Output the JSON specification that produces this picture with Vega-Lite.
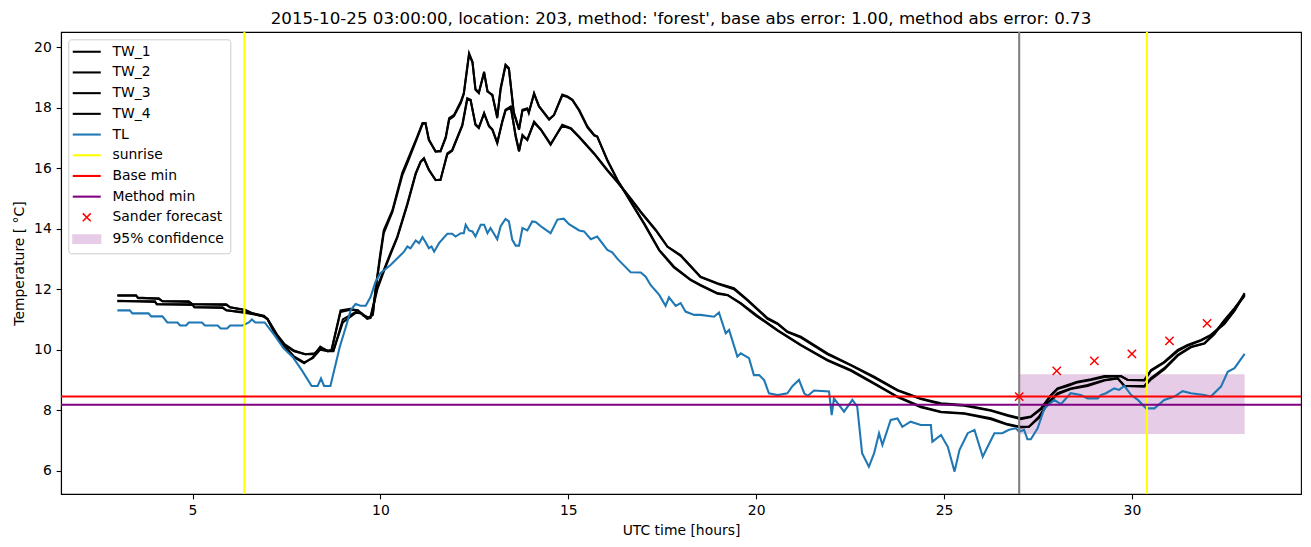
{
  "$schema": "https://vega.github.io/schema/vega-lite/v6.json",
  "width": 1240,
  "height": 462,
  "autosize": "none",
  "padding": {"left": 61, "top": 32, "right": 10, "bottom": 53},
  "title": {"text": "2015-10-25 03:00:00, location: 203, method: 'forest', base abs error: 1.00, method abs error: 0.73", "fontSize": 16.67, "fontWeight": "normal", "font": "DejaVu Sans", "color": "black", "anchor": "middle", "baseline": "bottom", "offset": 5, "dy": 19},
  "config": {
    "font": "DejaVu Sans",
    "view": {"stroke": "black", "strokeWidth": 1.1},
    "axis": {"grid": false, "domainColor": "black", "domainWidth": 1.1, "tickColor": "black", "tickWidth": 1.1, "tickSize": 4.86, "labelPadding": 4.86, "labelFont": "DejaVu Sans", "labelFontSize": 13.9, "labelColor": "black", "titleFont": "DejaVu Sans", "titleFontSize": 13.9, "titleFontWeight": "normal", "titleColor": "black"}
  },
  "datasets": {
    "pairA": [
      {"h":3.0,"TW_1":11.8,"TW_2":11.78},{"h":3.5,"TW_1":11.8,"TW_2":11.78},{"h":3.55,"TW_1":11.7,"TW_2":11.72},{"h":4.1,"TW_1":11.7,"TW_2":11.68},{"h":4.2,"TW_1":11.6,"TW_2":11.6},{"h":4.9,"TW_1":11.6,"TW_2":11.58},{"h":5.0,"TW_1":11.5,"TW_2":11.5},{"h":5.9,"TW_1":11.5,"TW_2":11.48},{"h":6.0,"TW_1":11.4,"TW_2":11.4},{"h":6.4,"TW_1":11.3,"TW_2":11.32},{"h":6.6,"TW_1":11.2,"TW_2":11.2},{"h":6.9,"TW_1":11.1,"TW_2":11.12},{"h":7.0,"TW_1":11.0,"TW_2":11.02},{"h":7.25,"TW_1":10.45,"TW_2":10.5},{"h":7.45,"TW_1":10.15,"TW_2":10.18},{"h":7.7,"TW_1":9.95,"TW_2":9.97},{"h":8.0,"TW_1":9.85,"TW_2":9.85},{"h":8.25,"TW_1":9.85,"TW_2":9.88},{"h":8.4,"TW_1":10.1,"TW_2":10.05},{"h":8.6,"TW_1":9.95,"TW_2":9.97},{"h":8.7,"TW_1":10.0,"TW_2":9.97},{"h":8.94,"TW_1":11.3,"TW_2":11.25},{"h":9.2,"TW_1":11.35,"TW_2":11.32},{"h":9.4,"TW_1":11.3,"TW_2":11.3},{"h":9.55,"TW_1":11.15,"TW_2":11.12},{"h":9.7,"TW_1":11.05,"TW_2":11.05},{"h":9.8,"TW_1":11.2,"TW_2":11.15},{"h":9.87,"TW_1":12.0,"TW_2":11.95},{"h":10.0,"TW_1":13.2,"TW_2":13.1},{"h":10.09,"TW_1":13.95,"TW_2":13.85},{"h":10.32,"TW_1":14.61,"TW_2":14.55},{"h":10.58,"TW_1":15.84,"TW_2":15.75},{"h":10.76,"TW_1":16.38,"TW_2":16.3},{"h":10.98,"TW_1":17.04,"TW_2":17.0},{"h":11.12,"TW_1":17.49,"TW_2":17.45},{"h":11.2,"TW_1":17.49,"TW_2":17.49},{"h":11.29,"TW_1":16.93,"TW_2":16.95},{"h":11.47,"TW_1":16.55,"TW_2":16.55},{"h":11.6,"TW_1":16.55,"TW_2":16.57},{"h":11.74,"TW_1":17.04,"TW_2":17.0},{"h":11.83,"TW_1":17.65,"TW_2":17.6},{"h":11.96,"TW_1":17.76,"TW_2":17.72},{"h":12.14,"TW_1":18.2,"TW_2":18.15},{"h":12.22,"TW_1":18.48,"TW_2":18.45},{"h":12.36,"TW_1":19.8,"TW_2":19.75},{"h":12.45,"TW_1":19.52,"TW_2":19.5},{"h":12.53,"TW_1":18.59,"TW_2":18.62},{"h":12.62,"TW_1":18.48,"TW_2":18.5},{"h":12.76,"TW_1":19.19,"TW_2":19.15},{"h":12.85,"TW_1":18.53,"TW_2":18.55},{"h":12.98,"TW_1":18.43,"TW_2":18.4},{"h":13.11,"TW_1":17.65,"TW_2":17.7},{"h":13.2,"TW_1":18.65,"TW_2":18.6},{"h":13.33,"TW_1":19.42,"TW_2":19.38},{"h":13.42,"TW_1":19.31,"TW_2":19.28},{"h":13.55,"TW_1":17.82,"TW_2":17.85},{"h":13.69,"TW_1":17.27,"TW_2":17.3},{"h":13.78,"TW_1":17.93,"TW_2":17.9},{"h":13.91,"TW_1":17.98,"TW_2":17.95},{"h":13.95,"TW_1":17.82,"TW_2":17.85},{"h":14.09,"TW_1":18.48,"TW_2":18.45},{"h":14.22,"TW_1":18.04,"TW_2":18.05},{"h":14.49,"TW_1":17.6,"TW_2":17.62},{"h":14.62,"TW_1":17.76,"TW_2":17.75},{"h":14.84,"TW_1":18.43,"TW_2":18.4},{"h":14.98,"TW_1":18.37,"TW_2":18.35},{"h":15.11,"TW_1":18.26,"TW_2":18.25},{"h":15.29,"TW_1":17.93,"TW_2":17.9},{"h":15.51,"TW_1":17.38,"TW_2":17.35},{"h":15.69,"TW_1":17.1,"TW_2":17.08},{"h":15.77,"TW_1":17.04,"TW_2":17.05},{"h":16.04,"TW_1":16.27,"TW_2":16.25},{"h":16.31,"TW_1":15.61,"TW_2":15.6},{"h":16.66,"TW_1":14.9,"TW_2":14.88},{"h":17.02,"TW_1":14.18,"TW_2":14.15},{"h":17.42,"TW_1":13.3,"TW_2":13.28},{"h":17.81,"TW_1":12.75,"TW_2":12.72},{"h":18.26,"TW_1":12.31,"TW_2":12.3},{"h":18.52,"TW_1":12.14,"TW_2":12.12},{"h":18.97,"TW_1":11.87,"TW_2":11.85},{"h":19.24,"TW_1":11.81,"TW_2":11.8},{"h":19.59,"TW_1":11.54,"TW_2":11.52},{"h":20.0,"TW_1":11.15,"TW_2":11.12},{"h":20.57,"TW_1":10.65,"TW_2":10.63},{"h":21.19,"TW_1":10.16,"TW_2":10.14},{"h":21.9,"TW_1":9.66,"TW_2":9.64},{"h":22.52,"TW_1":9.33,"TW_2":9.3},{"h":23.14,"TW_1":8.89,"TW_2":8.87},{"h":23.76,"TW_1":8.45,"TW_2":8.43},{"h":24.38,"TW_1":8.12,"TW_2":8.1},{"h":24.92,"TW_1":7.95,"TW_2":7.93},{"h":25.54,"TW_1":7.9,"TW_2":7.88},{"h":26.25,"TW_1":7.73,"TW_2":7.7},{"h":26.69,"TW_1":7.54,"TW_2":7.52},{"h":27.04,"TW_1":7.45,"TW_2":7.43},{"h":27.26,"TW_1":7.45,"TW_2":7.45},{"h":27.53,"TW_1":7.79,"TW_2":7.75},{"h":27.75,"TW_1":8.23,"TW_2":8.2},{"h":28.02,"TW_1":8.56,"TW_2":8.53},{"h":28.37,"TW_1":8.72,"TW_2":8.7},{"h":28.82,"TW_1":8.83,"TW_2":8.8},{"h":29.27,"TW_1":9.0,"TW_2":8.98},{"h":29.62,"TW_1":9.06,"TW_2":9.05},{"h":29.8,"TW_1":8.8,"TW_2":8.8},{"h":30.33,"TW_1":8.8,"TW_2":8.78},{"h":30.51,"TW_1":9.06,"TW_2":9.02},{"h":30.86,"TW_1":9.39,"TW_2":9.35},{"h":31.22,"TW_1":9.83,"TW_2":9.8},{"h":31.57,"TW_1":10.1,"TW_2":10.08},{"h":31.93,"TW_1":10.21,"TW_2":10.2},{"h":32.19,"TW_1":10.54,"TW_2":10.5},{"h":32.46,"TW_1":10.98,"TW_2":10.95},{"h":32.73,"TW_1":11.37,"TW_2":11.35},{"h":33.0,"TW_1":11.81,"TW_2":11.78}
    ],
    "pairB": [
      {"h":3.0,"TW_3":11.6,"TW_4":11.62},{"h":4.0,"TW_3":11.6,"TW_4":11.58},{"h":4.05,"TW_3":11.5,"TW_4":11.5},{"h":5.0,"TW_3":11.5,"TW_4":11.48},{"h":5.05,"TW_3":11.4,"TW_4":11.4},{"h":5.8,"TW_3":11.4,"TW_4":11.38},{"h":5.9,"TW_3":11.3,"TW_4":11.3},{"h":6.5,"TW_3":11.2,"TW_4":11.22},{"h":6.9,"TW_3":11.1,"TW_4":11.1},{"h":7.0,"TW_3":11.0,"TW_4":11.0},{"h":7.25,"TW_3":10.4,"TW_4":10.42},{"h":7.45,"TW_3":10.1,"TW_4":10.12},{"h":7.7,"TW_3":9.75,"TW_4":9.78},{"h":7.97,"TW_3":9.55,"TW_4":9.58},{"h":8.2,"TW_3":9.75,"TW_4":9.72},{"h":8.4,"TW_3":10.05,"TW_4":10.0},{"h":8.6,"TW_3":9.95,"TW_4":9.95},{"h":8.75,"TW_3":9.95,"TW_4":9.97},{"h":9.0,"TW_3":11.0,"TW_4":10.9},{"h":9.35,"TW_3":11.25,"TW_4":11.22},{"h":9.5,"TW_3":11.2,"TW_4":11.2},{"h":9.65,"TW_3":11.04,"TW_4":11.02},{"h":9.74,"TW_3":11.1,"TW_4":11.05},{"h":9.92,"TW_3":12.08,"TW_4":12.0},{"h":10.09,"TW_3":12.63,"TW_4":12.58},{"h":10.27,"TW_3":13.2,"TW_4":13.15},{"h":10.45,"TW_3":13.74,"TW_4":13.7},{"h":10.72,"TW_3":14.84,"TW_4":14.8},{"h":10.94,"TW_3":15.84,"TW_4":15.8},{"h":11.07,"TW_3":16.22,"TW_4":16.2},{"h":11.16,"TW_3":16.33,"TW_4":16.3},{"h":11.29,"TW_3":15.94,"TW_4":15.95},{"h":11.47,"TW_3":15.61,"TW_4":15.6},{"h":11.6,"TW_3":15.61,"TW_4":15.62},{"h":11.78,"TW_3":16.49,"TW_4":16.45},{"h":11.91,"TW_3":16.6,"TW_4":16.57},{"h":12.18,"TW_3":17.43,"TW_4":17.4},{"h":12.31,"TW_3":18.31,"TW_4":18.25},{"h":12.4,"TW_3":18.26,"TW_4":18.25},{"h":12.53,"TW_3":17.43,"TW_4":17.45},{"h":12.62,"TW_3":17.32,"TW_4":17.35},{"h":12.76,"TW_3":17.82,"TW_4":17.8},{"h":12.89,"TW_3":17.38,"TW_4":17.4},{"h":12.98,"TW_3":17.27,"TW_4":17.28},{"h":13.11,"TW_3":16.82,"TW_4":16.85},{"h":13.24,"TW_3":17.54,"TW_4":17.5},{"h":13.33,"TW_3":17.93,"TW_4":17.9},{"h":13.47,"TW_3":18.04,"TW_4":18.0},{"h":13.6,"TW_3":17.04,"TW_4":17.08},{"h":13.69,"TW_3":16.55,"TW_4":16.58},{"h":13.78,"TW_3":17.1,"TW_4":17.05},{"h":13.91,"TW_3":16.93,"TW_4":16.95},{"h":14.09,"TW_3":17.54,"TW_4":17.5},{"h":14.27,"TW_3":17.27,"TW_4":17.28},{"h":14.53,"TW_3":16.77,"TW_4":16.8},{"h":14.84,"TW_3":17.43,"TW_4":17.4},{"h":15.07,"TW_3":17.32,"TW_4":17.3},{"h":15.29,"TW_3":17.04,"TW_4":17.02},{"h":15.69,"TW_3":16.49,"TW_4":16.47},{"h":16.04,"TW_3":15.94,"TW_4":15.92},{"h":16.31,"TW_3":15.55,"TW_4":15.53},{"h":16.66,"TW_3":15.0,"TW_4":14.98},{"h":16.93,"TW_3":14.56,"TW_4":14.54},{"h":17.33,"TW_3":13.96,"TW_4":13.94},{"h":17.64,"TW_3":13.41,"TW_4":13.4},{"h":17.99,"TW_3":13.13,"TW_4":13.1},{"h":18.52,"TW_3":12.41,"TW_4":12.4},{"h":18.97,"TW_3":12.2,"TW_4":12.18},{"h":19.41,"TW_3":12.03,"TW_4":12.0},{"h":19.77,"TW_3":11.65,"TW_4":11.63},{"h":20.3,"TW_3":11.05,"TW_4":11.02},{"h":20.57,"TW_3":10.87,"TW_4":10.85},{"h":20.83,"TW_3":10.6,"TW_4":10.58},{"h":21.19,"TW_3":10.43,"TW_4":10.4},{"h":21.9,"TW_3":9.88,"TW_4":9.85},{"h":22.52,"TW_3":9.5,"TW_4":9.48},{"h":23.14,"TW_3":9.11,"TW_4":9.08},{"h":23.76,"TW_3":8.67,"TW_4":8.65},{"h":24.38,"TW_3":8.39,"TW_4":8.37},{"h":24.92,"TW_3":8.23,"TW_4":8.2},{"h":25.54,"TW_3":8.17,"TW_4":8.15},{"h":26.25,"TW_3":8.0,"TW_4":7.98},{"h":26.69,"TW_3":7.84,"TW_4":7.82},{"h":27.04,"TW_3":7.73,"TW_4":7.7},{"h":27.31,"TW_3":7.79,"TW_4":7.77},{"h":27.58,"TW_3":8.06,"TW_4":8.03},{"h":27.84,"TW_3":8.5,"TW_4":8.47},{"h":28.02,"TW_3":8.72,"TW_4":8.7},{"h":28.29,"TW_3":8.83,"TW_4":8.8},{"h":28.55,"TW_3":8.94,"TW_4":8.92},{"h":28.91,"TW_3":9.02,"TW_4":9.0},{"h":29.27,"TW_3":9.13,"TW_4":9.1},{"h":29.71,"TW_3":9.13,"TW_4":9.12},{"h":29.89,"TW_3":9.0,"TW_4":9.0},{"h":30.33,"TW_3":9.0,"TW_4":8.98},{"h":30.51,"TW_3":9.33,"TW_4":9.3},{"h":30.86,"TW_3":9.6,"TW_4":9.57},{"h":31.22,"TW_3":9.99,"TW_4":9.95},{"h":31.48,"TW_3":10.16,"TW_4":10.13},{"h":31.84,"TW_3":10.32,"TW_4":10.3},{"h":32.1,"TW_3":10.49,"TW_4":10.47},{"h":32.46,"TW_3":10.87,"TW_4":10.85},{"h":32.73,"TW_3":11.31,"TW_4":11.28},{"h":33.0,"TW_3":11.87,"TW_4":11.83}
    ],
    "tl": [
      {"h":3.0,"TL":11.3},{"h":3.33,"TL":11.3},{"h":3.4,"TL":11.2},{"h":3.83,"TL":11.2},{"h":3.9,"TL":11.1},{"h":4.2,"TL":11.1},{"h":4.33,"TL":10.9},{"h":4.6,"TL":10.9},{"h":4.67,"TL":10.8},{"h":4.83,"TL":10.8},{"h":4.9,"TL":10.9},{"h":5.25,"TL":10.9},{"h":5.33,"TL":10.8},{"h":5.67,"TL":10.8},{"h":5.75,"TL":10.7},{"h":5.92,"TL":10.7},{"h":6.0,"TL":10.8},{"h":6.33,"TL":10.8},{"h":6.5,"TL":10.9},{"h":6.58,"TL":11.0},{"h":6.67,"TL":10.9},{"h":6.92,"TL":10.9},{"h":7.17,"TL":10.5},{"h":7.42,"TL":10.05},{"h":7.67,"TL":9.75},{"h":7.92,"TL":9.3},{"h":8.17,"TL":8.8},{"h":8.33,"TL":8.8},{"h":8.42,"TL":9.05},{"h":8.5,"TL":8.8},{"h":8.67,"TL":8.8},{"h":8.92,"TL":10.1},{"h":9.08,"TL":10.75},{"h":9.21,"TL":11.31},{"h":9.34,"TL":11.51},{"h":9.47,"TL":11.45},{"h":9.61,"TL":11.45},{"h":9.74,"TL":11.75},{"h":9.87,"TL":12.25},{"h":10.0,"TL":12.53},{"h":10.27,"TL":12.8},{"h":10.63,"TL":13.24},{"h":10.72,"TL":13.41},{"h":10.8,"TL":13.35},{"h":10.94,"TL":13.61},{"h":11.03,"TL":13.52},{"h":11.12,"TL":13.72},{"h":11.2,"TL":13.56},{"h":11.29,"TL":13.35},{"h":11.36,"TL":13.41},{"h":11.43,"TL":13.24},{"h":11.56,"TL":13.52},{"h":11.78,"TL":13.83},{"h":11.91,"TL":13.83},{"h":12.0,"TL":13.74},{"h":12.14,"TL":13.85},{"h":12.22,"TL":13.85},{"h":12.27,"TL":14.13},{"h":12.36,"TL":13.94},{"h":12.45,"TL":13.91},{"h":12.53,"TL":13.74},{"h":12.67,"TL":14.13},{"h":12.76,"TL":14.13},{"h":12.85,"TL":13.85},{"h":12.93,"TL":14.02},{"h":13.11,"TL":13.65},{"h":13.2,"TL":14.08},{"h":13.33,"TL":14.32},{"h":13.42,"TL":14.24},{"h":13.51,"TL":13.63},{"h":13.6,"TL":13.44},{"h":13.69,"TL":13.44},{"h":13.78,"TL":14.02},{"h":13.91,"TL":13.94},{"h":14.04,"TL":14.24},{"h":14.13,"TL":14.22},{"h":14.31,"TL":14.04},{"h":14.53,"TL":13.85},{"h":14.71,"TL":14.3},{"h":14.88,"TL":14.33},{"h":15.02,"TL":14.15},{"h":15.29,"TL":13.94},{"h":15.42,"TL":13.91},{"h":15.6,"TL":13.65},{"h":15.77,"TL":13.74},{"h":16.04,"TL":13.3},{"h":16.17,"TL":13.22},{"h":16.31,"TL":13.0},{"h":16.66,"TL":12.56},{"h":16.93,"TL":12.55},{"h":17.06,"TL":12.41},{"h":17.19,"TL":12.14},{"h":17.42,"TL":11.81},{"h":17.59,"TL":11.45},{"h":17.68,"TL":11.73},{"h":17.86,"TL":11.45},{"h":17.99,"TL":11.54},{"h":18.12,"TL":11.26},{"h":18.35,"TL":11.15},{"h":18.52,"TL":11.15},{"h":18.88,"TL":11.09},{"h":19.01,"TL":11.23},{"h":19.19,"TL":10.54},{"h":19.28,"TL":10.65},{"h":19.5,"TL":9.77},{"h":19.59,"TL":9.88},{"h":19.81,"TL":9.72},{"h":19.94,"TL":9.16},{"h":20.08,"TL":9.16},{"h":20.21,"TL":9.0},{"h":20.34,"TL":8.56},{"h":20.57,"TL":8.5},{"h":20.83,"TL":8.56},{"h":20.97,"TL":8.8},{"h":21.14,"TL":9.0},{"h":21.28,"TL":8.56},{"h":21.37,"TL":8.47},{"h":21.54,"TL":8.65},{"h":21.94,"TL":8.62},{"h":22.01,"TL":7.84},{"h":22.07,"TL":8.39},{"h":22.34,"TL":7.95},{"h":22.56,"TL":8.34},{"h":22.69,"TL":8.12},{"h":22.82,"TL":6.58},{"h":23.0,"TL":6.13},{"h":23.14,"TL":6.58},{"h":23.27,"TL":7.24},{"h":23.36,"TL":6.85},{"h":23.58,"TL":7.68},{"h":23.76,"TL":7.73},{"h":23.89,"TL":7.45},{"h":24.11,"TL":7.62},{"h":24.38,"TL":7.51},{"h":24.65,"TL":7.51},{"h":24.69,"TL":6.96},{"h":24.92,"TL":7.18},{"h":25.1,"TL":6.79},{"h":25.28,"TL":5.97},{"h":25.41,"TL":6.68},{"h":25.63,"TL":7.24},{"h":25.81,"TL":7.35},{"h":26.03,"TL":6.46},{"h":26.16,"TL":6.79},{"h":26.34,"TL":7.24},{"h":26.55,"TL":7.24},{"h":26.73,"TL":7.35},{"h":26.91,"TL":7.4},{"h":27.0,"TL":7.29},{"h":27.13,"TL":7.35},{"h":27.22,"TL":7.04},{"h":27.31,"TL":7.04},{"h":27.49,"TL":7.4},{"h":27.67,"TL":8.06},{"h":27.93,"TL":8.34},{"h":28.11,"TL":8.2},{"h":28.37,"TL":8.56},{"h":28.64,"TL":8.5},{"h":28.82,"TL":8.39},{"h":29.09,"TL":8.39},{"h":29.17,"TL":8.5},{"h":29.31,"TL":8.56},{"h":29.53,"TL":8.72},{"h":29.66,"TL":8.67},{"h":29.8,"TL":8.8},{"h":29.98,"TL":8.5},{"h":30.16,"TL":8.34},{"h":30.38,"TL":8.06},{"h":30.6,"TL":8.06},{"h":30.86,"TL":8.34},{"h":31.13,"TL":8.45},{"h":31.35,"TL":8.63},{"h":31.57,"TL":8.56},{"h":31.93,"TL":8.5},{"h":32.1,"TL":8.45},{"h":32.37,"TL":8.78},{"h":32.55,"TL":9.27},{"h":32.73,"TL":9.39},{"h":33.0,"TL":9.86}
    ]
  },
  "layer": [
    {
      "data": {"values": [{"h": 27.0, "h2": 33.0, "t": 7.21, "t2": 9.19}]},
      "mark": {"type": "rect", "color": "#e6cce6"},
      "encoding": {
        "x": {"field": "h", "type": "quantitative", "scale": {"domain": [1.5, 34.5], "nice": false, "zero": false}, "axis": {"values": [5, 10, 15, 20, 25, 30], "title": "UTC time [hours]", "titlePadding": 6}},
        "x2": {"field": "h2"},
        "y": {"field": "t", "type": "quantitative", "scale": {"domain": [5.23, 20.5], "nice": false, "zero": false}, "axis": {"values": [6, 8, 10, 12, 14, 16, 18, 20], "title": "Temperature [ °C]", "titlePadding": 7}},
        "y2": {"field": "t2"}
      }
    },
    {
      "data": {"name": "pairA"},
      "transform": [{"fold": ["TW_1", "TW_2"], "as": ["s", "t"]}],
      "mark": {"type": "line", "strokeWidth": 2.08, "clip": true},
      "encoding": {
        "x": {"field": "h", "type": "quantitative", "title": "UTC time [hours]"},
        "y": {"field": "t", "type": "quantitative", "title": "Temperature [ °C]"},
        "detail": {"field": "s"},
        "color": {"field": "s", "type": "nominal",
          "scale": {"domain": ["TW_1", "TW_2", "TW_3", "TW_4", "TL", "sunrise", "Base min", "Method min", "Sander forecast", "95% confidence"],
                    "range": ["#000000", "#000000", "#000000", "#000000", "#1f77b4", "#ffff00", "#ff0000", "#800080", "#ff0000", "#e6cce6"]},
          "legend": {
            "title": null, "orient": "none", "legendX": 7.3, "legendY": 7.3,
            "values": ["TW_1", "TW_2", "TW_3", "TW_4", "TL", "sunrise", "Base min", "Method min", "Sander forecast", "95% confidence"],
            "padding": 5.5, "fillColor": "rgba(255,255,255,0.8)", "strokeColor": "#cccccc", "cornerRadius": 3,
            "labelFont": "DejaVu Sans", "labelFontSize": 13.9, "labelColor": "black", "labelOffset": 18.8,
            "rowPadding": 5.7, "symbolSize": 196, "symbolOffset": 6,
            "symbolType": {"expr": "datum.value == 'Sander forecast' ? 'M-0.57,-0.57L0.57,0.57M-0.57,0.57L0.57,-0.57' : datum.value == '95% confidence' ? 'M-1.93,-0.55H1.93V0.55H-1.93Z' : 'M-2,0H2'"},
            "symbolFillColor": {"expr": "datum.value == '95% confidence' ? '#e6cce6' : 'transparent'"},
            "symbolStrokeWidth": {"expr": "datum.value == 'Sander forecast' ? 1.5 : 2.08"}
          }}
      }
    },
    {
      "data": {"name": "pairB"},
      "transform": [{"fold": ["TW_3", "TW_4"], "as": ["s", "t"]}],
      "mark": {"type": "line", "strokeWidth": 2.08, "clip": true},
      "encoding": {
        "x": {"field": "h", "type": "quantitative", "title": "UTC time [hours]"},
        "y": {"field": "t", "type": "quantitative", "title": "Temperature [ °C]"},
        "detail": {"field": "s"},
        "color": {"field": "s", "type": "nominal"}
      }
    },
    {
      "data": {"name": "tl"},
      "transform": [{"fold": ["TL"], "as": ["s", "t"]}],
      "mark": {"type": "line", "strokeWidth": 2.08, "clip": true},
      "encoding": {
        "x": {"field": "h", "type": "quantitative", "title": "UTC time [hours]"},
        "y": {"field": "t", "type": "quantitative", "title": "Temperature [ °C]"},
        "color": {"field": "s", "type": "nominal"}
      }
    },
    {
      "data": {"values": [{"h": 6.38}, {"h": 30.4}]},
      "mark": {"type": "rule", "strokeWidth": 2.08, "color": "#ffff00"},
      "encoding": {
        "x": {"field": "h", "type": "quantitative", "title": "UTC time [hours]"}
      }
    },
    {
      "data": {"values": [{"t": 8.45}]},
      "mark": {"type": "rule", "strokeWidth": 2.08, "color": "#ff0000"},
      "encoding": {
        "y": {"field": "t", "type": "quantitative", "title": "Temperature [ °C]"}
      }
    },
    {
      "data": {"values": [{"t": 8.18}]},
      "mark": {"type": "rule", "strokeWidth": 2.08, "color": "#800080"},
      "encoding": {
        "y": {"field": "t", "type": "quantitative", "title": "Temperature [ °C]"}
      }
    },
    {
      "data": {"values": [{"h": 27.0}]},
      "mark": {"type": "rule", "strokeWidth": 2.08, "color": "#808080"},
      "encoding": {
        "x": {"field": "h", "type": "quantitative", "title": "UTC time [hours]"}
      }
    },
    {
      "data": {"values": [{"h": 27, "t": 8.45}, {"h": 28, "t": 9.3}, {"h": 29, "t": 9.63}, {"h": 30, "t": 9.86}, {"h": 31, "t": 10.29}, {"h": 32, "t": 10.87}]},
      "mark": {"type": "point", "shape": "M-1,-1L1,1M-1,1L1,-1", "size": 69, "filled": false, "strokeWidth": 1.5, "opacity": 1, "color": "#ff0000"},
      "encoding": {
        "x": {"field": "h", "type": "quantitative", "title": "UTC time [hours]"},
        "y": {"field": "t", "type": "quantitative", "title": "Temperature [ °C]"}
      }
    }
  ]
}
